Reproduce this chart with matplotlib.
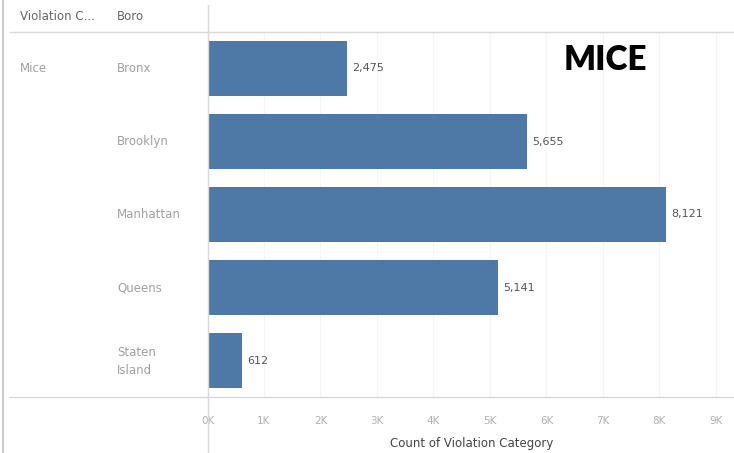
import matplotlib.pyplot as plt
from matplotlib.lines import Line2D
import matplotlib.transforms as mtransforms

# Данные: количество нарушений (мыши) по районам
boros = ['Bronx', 'Brooklyn', 'Manhattan', 'Queens', 'Staten\nIsland']
counts = [2475, 5655, 8121, 5141, 612]
category = 'Mice'
tick_values = [0, 1000, 2000, 3000, 4000, 5000, 6000, 7000, 8000, 9000]
tick_labels = ['0K', '1K', '2K', '3K', '4K', '5K', '6K', '7K', '8K', '9K']

W, H = 734, 453
plt.rcParams['font.family'] = ['DejaVu Sans']

fig = plt.figure(figsize=(W / 100, H / 100), dpi=100)

# перевод пикселей в координаты фигуры
def fx(x):
    return x / W

def fy(y):
    return 1 - y / H

left, right, top, bottom = 207.5, 734, 32, 397
ax = fig.add_axes([fx(left), fy(bottom), fx(right) - fx(left), fy(top) - fy(bottom)])

bar_color = '#4e79a7'
ypos = range(len(boros))
ax.barh(ypos, counts, height=0.74, color=bar_color, zorder=2)
ax.set_ylim(len(boros) - 0.5, -0.5)
ax.set_xlim(0, 9320)

# подписи значений справа от столбцов
offset = mtransforms.offset_copy(ax.transData, fig=fig, x=5, y=0, units='dots')
for i, v in enumerate(counts):
    ax.text(v, i, f'{v:,}', transform=offset, ha='left', va='center',
            fontsize=8, color='#555555')

# сетка и оси
ax.set_xticks(tick_values)
ax.set_xticklabels(tick_labels, fontsize=7.5, color='#b0b0b0')
ax.tick_params(axis='x', length=0, pad=14)
ax.set_yticks([])
for v in tick_values[1:]:
    ax.axvline(v, color='#f5f5f5', lw=0.8, zorder=1)
for s in ax.spines.values():
    s.set_visible(False)
fig.text(fx(472), fy(444), 'Count of Violation Category', fontsize=8.5, color='#444444',
         ha='center', va='center')

# заголовок таблицы и подписи строк
fig.text(fx(20), fy(17), 'Violation C...', fontsize=8.5, color='#666666', va='center')
fig.text(fx(117), fy(17), 'Boro', fontsize=8.5, color='#666666', va='center')
fig.text(fx(20), fy(69), category, fontsize=8.5, color='#a0a0a0', va='center')
row_y = [69, 142, 215, 288, 361]
for name, y in zip(boros, row_y):
    fig.text(fx(117), fy(y), name, fontsize=8.5, color='#a0a0a0', va='center', linespacing=1.5)

fig.text(fx(605), fy(60), 'MICE', fontsize=24, fontweight='heavy', color='black',
         ha='center', va='center', family='Lato')

# разделительные линии
line_color = '#d9d9d9'
fig.add_artist(Line2D([fx(10), 1], [fy(top), fy(top)], color=line_color, lw=1))
fig.add_artist(Line2D([fx(10), 1], [fy(bottom), fy(bottom)], color=line_color, lw=1))
fig.add_artist(Line2D([fx(left), fx(left)], [fy(5), 0], color=line_color, lw=1))
fig.add_artist(Line2D([fx(3), fx(3)], [1, 0], color='#cccccc', lw=1.5))

fig.savefig('out.png', dpi=100)
